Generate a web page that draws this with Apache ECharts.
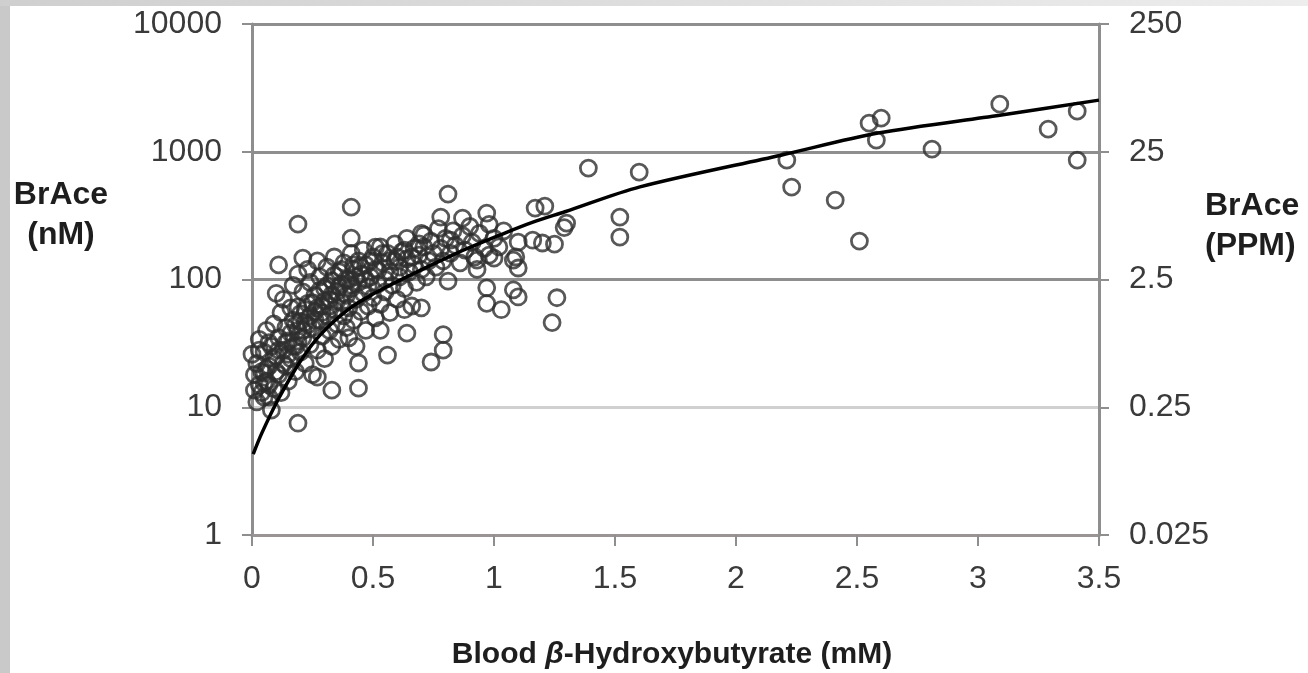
<!DOCTYPE html>
<html><head><meta charset="utf-8">
<script src="https://cdn.jsdelivr.net/npm/echarts@6/dist/echarts.min.js"></script>
<style>html,body{margin:0;padding:0;background:#fff}#c{width:1308px;height:673px}</style>
</head><body><div id="c"></div>
<script>
// Tick labels
const leftTickLabels = ['1', '10', '100', '1000', '10000'];
const rightTickLabels = ['0.025', '0.25', '2.5', '25', '250'];

// Scatter: BrAce (nM) vs blood beta-hydroxybutyrate (mM) -- isolated points
const sparsePoints = [
  [1.39,745],[1.60,692],[1.52,308],[1.52,215],[2.21,860],[2.23,528],[2.41,418],[2.51,200],
  [2.55,1675],[2.60,1832],[2.58,1233],[2.81,1048],[3.09,2357],[3.29,1503],[3.41,2078],[3.41,860],
  [1.30,276],[1.29,255],[1.21,375],[1.20,193],[1.25,189],[1.26,72],[1.24,46],[1.17,362],[1.16,203],
  [1.10,196],[1.09,150],[1.10,123],[1.08,83],[1.10,73],[1.03,58],[0.97,65],[0.97,86],[0.98,155],
  [0.92,150],[0.97,331],[0.87,302],[0.78,308],[0.81,466],[0.71,223],[0.82,203],[0.81,97],[0.70,60],
  [0.64,38],[0.79,37],[0.79,28],[0.74,22.6],[0.53,40],[0.56,25.6],[0.44,22.2],[0.44,14.1],[0.33,13.6],
  [0.27,17.2],[0.19,7.5],[0.41,369],[0.19,271],[0.41,211],[0.51,179],[0.11,130],[0.21,147],[0.10,78],
  [0.00,26],[0.07,32],[0.03,28],[0.05,15.5],[0.01,13.6],[0.07,12],[0.05,18.5],[0.19,61],[0.63,58],[0.40,35],
  [0.93,142],[1.00,147],[1.08,142]
];
// Scatter -- points inside the dense cluster (estimated)
const densePoints = [
  [0.01,18],[0.02,11],[0.02,22],[0.03,15],[0.03,34],[0.04,19],[0.05,12],[0.05,27],[0.06,40],[0.06,16],
  [0.07,21],[0.08,9.5],[0.08,30],[0.09,14],[0.09,45],[0.10,25],[0.11,18],[0.11,35],[0.12,55],[0.12,13],
  [0.13,28],[0.13,70],[0.14,21],[0.14,42],[0.15,33],[0.15,16],[0.16,60],[0.16,24],[0.17,48],[0.17,90],
  [0.18,30],[0.18,19],[0.19,40],[0.19,110],[0.20,54],[0.20,27],[0.21,35],[0.21,80],[0.22,22],[0.22,46],
  [0.23,65],[0.23,120],[0.24,31],[0.24,95],[0.25,42],[0.25,18],[0.26,56],[0.26,75],[0.27,28],[0.27,140],
  [0.28,48],[0.28,105],[0.29,36],[0.29,62],[0.30,85],[0.30,24],[0.31,52],[0.31,125],[0.32,40],[0.32,70],
  [0.33,98],[0.33,30],[0.34,58],[0.34,150],[0.35,45],[0.35,80],[0.36,115],[0.36,34],[0.37,66],[0.37,92],
  [0.38,52],[0.38,135],[0.39,75],[0.39,42],[0.40,100],[0.40,60],[0.41,160],[0.41,85],[0.42,48],[0.42,120],
  [0.43,70],[0.43,30],[0.44,95],[0.44,140],[0.45,56],[0.45,110],[0.46,78],[0.46,170],[0.47,40],[0.47,130],
  [0.48,88],[0.48,62],[0.49,105],[0.50,150],[0.50,72],[0.51,50],[0.51,120],[0.52,92],[0.53,180],[0.53,64],
  [0.54,135],[0.55,100],[0.55,80],[0.56,160],[0.57,55],[0.57,115],[0.58,90],[0.59,140],[0.59,190],[0.60,70],
  [0.61,125],[0.61,105],[0.62,165],[0.63,85],[0.64,145],[0.64,210],[0.65,115],[0.66,62],[0.67,175],[0.67,130],
  [0.68,95],[0.69,155],[0.70,120],[0.70,230],[0.71,180],[0.72,105],[0.73,140],[0.74,200],[0.75,160],[0.76,125],
  [0.77,250],[0.78,175],[0.79,140],[0.80,210],[0.82,160],[0.83,240],[0.84,185],[0.86,135],[0.87,220],[0.88,170],
  [0.90,260],[0.91,195],[0.93,120],[0.94,230],[0.96,175],[0.98,270],[1.00,210],[1.02,180],[1.04,240]
];
// Scatter -- points hugging the fitted curve in the darkest part of the cluster (estimated)
const corePoints = [
  [0.04,13],[0.06,20],[0.07,15],[0.09,24],[0.10,19],[0.11,28],[0.13,22],[0.14,32],[0.15,26],[0.16,38],
  [0.17,30],[0.18,44],[0.19,33],[0.20,47],[0.21,40],[0.22,58],[0.23,44],[0.24,52],[0.25,66],[0.26,48],
  [0.27,60],[0.28,82],[0.29,55],[0.30,68],[0.31,90],[0.32,62],[0.33,76],[0.34,108],[0.35,68],[0.36,88],
  [0.37,120],[0.38,78],[0.39,100],[0.41,90],[0.42,130],[0.43,105],[0.45,125],[0.47,100],[0.49,140],[0.52,118],
  [0.54,160],[0.57,140],[0.60,150],[0.63,170],[0.66,150],[0.69,190]
];
// Fitted curve
const fitX = [0.005, 0.041, 0.107, 0.198, 0.281, 0.405, 0.508, 0.612, 0.847, 1.025, 1.161, 1.293, 1.603, 2.186, 2.587, 3.09, 3.5];
const fitY = [4.3, 6.3, 11.4, 22.6, 36.7, 59.7, 78.3, 99, 161, 223, 281, 339, 531, 940, 1400, 1933, 2535];

const chart = echarts.init(document.getElementById('c'));
const FONT = 'Liberation Sans, Arial, sans-serif';
const gray = '#8e8e8e';
const lbl = {fontFamily: FONT, fontSize: 32, color: '#3a3a3a'};
const logIdx = v => Math.round(Math.log10(v));

chart.setOption({
  animation: false,
  backgroundColor: '#ffffff',
  grid: {left: 252, right: 209, top: 24, bottom: 138, containLabel: false},
  xAxis: {
    type: 'value', min: 0, max: 3.5, interval: 0.5,
    axisLine: {show: true, onZero: false, lineStyle: {color: '#9a9494', width: 3}},
    axisTick: {show: true, inside: false, length: 11, lineStyle: {color: gray, width: 2}},
    axisLabel: Object.assign({margin: 28}, lbl),
    splitLine: {show: false}
  },
  yAxis: [{
    type: 'log', logBase: 10, min: 1, max: 10000, position: 'left',
    axisLine: {show: true, lineStyle: {color: gray, width: 3}},
    axisTick: {show: true, inside: false, length: 10, lineStyle: {color: gray, width: 2}},
    axisLabel: Object.assign({margin: 30, formatter: v => leftTickLabels[logIdx(v)]}, lbl),
    splitLine: {show: true, lineStyle: {color: ['#a0a0a0', '#d0d0d0', gray, gray, gray], width: 3}},
    minorTick: {show: false}
  }, {
    type: 'log', logBase: 10, min: 1, max: 10000, position: 'right',
    axisLine: {show: true, lineStyle: {color: gray, width: 3}},
    axisTick: {show: true, inside: false, length: 10, lineStyle: {color: gray, width: 2}},
    axisLabel: Object.assign({margin: 30, formatter: v => rightTickLabels[logIdx(v)]}, lbl),
    splitLine: {show: false}
  }],
  series: [{
    type: 'scatter', yAxisIndex: 0,
    data: sparsePoints.concat(densePoints, corePoints),
    symbol: 'circle', symbolSize: 16,
    itemStyle: {color: 'rgba(0,0,0,0)', borderColor: '#2e2e2e', borderWidth: 2.8},
    z: 2
  }, {
    type: 'line', yAxisIndex: 0,
    data: fitX.map((x, i) => [x, fitY[i]]),
    smooth: 0.3, showSymbol: false, symbol: 'none',
    lineStyle: {color: '#000', width: 3.5},
    z: 3
  }],
  graphic: [
    {type: 'rect', left: 0, top: 0, shape: {width: 10, height: 673}, style: {fill: '#c9c9c9'}, z: 100},
    {type: 'rect', left: 0, top: 0, shape: {width: 1308, height: 6},
      style: {fill: new echarts.graphic.LinearGradient(0, 0, 1, 0, [{offset: 0, color: '#cfcfcf'}, {offset: 1, color: '#ededed'}])}, z: 100},
    {type: 'text', x: 61, y: 215, z: 50,
      style: {text: 'BrAce\n(nM)', fontFamily: FONT, fontWeight: 'bold', fontSize: 32, lineHeight: 40,
        fill: '#1e1e1e', align: 'center', verticalAlign: 'middle'}},
    {type: 'text', x: 1205, y: 226, z: 50,
      style: {text: 'BrAce\n(PPM)', fontFamily: FONT, fontWeight: 'bold', fontSize: 32, lineHeight: 40,
        fill: '#1e1e1e', align: 'left', verticalAlign: 'middle'}},
    {type: 'text', x: 672, y: 655, z: 50,
      style: {text: '{b|Blood }{i|β}{b|-Hydroxybutyrate (mM)}', align: 'center', verticalAlign: 'middle',
        rich: {
          b: {fontFamily: FONT, fontWeight: 'bold', fontSize: 30, fill: '#1e1e1e'},
          i: {fontFamily: FONT, fontWeight: 'bold', fontStyle: 'italic', fontSize: 30, fill: '#1e1e1e'}
        }}}
  ]
});
</script></body></html>
